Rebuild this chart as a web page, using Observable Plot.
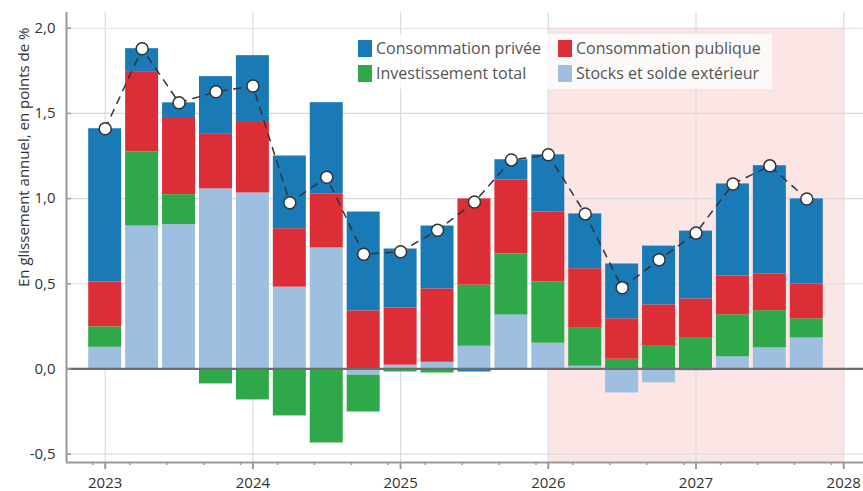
<!DOCTYPE html>
<html>
<head>
<meta charset="utf-8">
<script src="https://cdn.jsdelivr.net/npm/d3@7"></script>
<script src="https://cdn.jsdelivr.net/npm/@observablehq/plot@0.6"></script>
<style>
  html, body { margin: 0; padding: 0; background: #fff; overflow: hidden; }
  #wrap { position: relative; width: 863px; height: 491px; font-family: "Open Sans", sans-serif; }
  #legend { position: absolute; left: 349px; top: 34px; width: 423px; height: 55px;
            background: rgba(255,255,255,0.75); }
  .item { position: absolute; display: flex; align-items: center; font-size: 16px; color: #555; white-space: nowrap; }
  .sw { width: 14px; height: 17px; margin-right: 4px; }
</style>
</head>
<body>
<div id="wrap"></div>
<script>
// ---- data ----
const periods = [2023.00, 2023.25, 2023.50, 2023.75, 2024.00, 2024.25, 2024.50, 2024.75,
                 2025.00, 2025.25, 2025.50, 2025.75, 2026.00, 2026.25, 2026.50, 2026.75,
                 2027.00, 2027.25, 2027.50, 2027.75];
const seriesNames = ["Stocks et solde extérieur", "Investissement total", "Consommation publique", "Consommation privée"];
const stocks   = [0.127, 0.839, 0.847, 1.057, 1.033, 0.480, 0.710, -0.037, 0.022, 0.039,
                  0.133, 0.316, 0.151, 0.016, -0.141, -0.082, -0.012, 0.071, 0.124, 0.182];
const invest   = [0.120, 0.435, 0.176, -0.088, -0.182, -0.276, -0.435, -0.216, -0.018, -0.024,
                  0.359, 0.359, 0.359, 0.223, 0.057, 0.133, 0.180, 0.247, 0.218, 0.112];
const publique = [0.263, 0.467, 0.447, 0.320, 0.414, 0.343, 0.318, 0.341, 0.335, 0.431,
                  0.506, 0.435, 0.412, 0.349, 0.237, 0.243, 0.231, 0.227, 0.216, 0.204];
const privee   = [0.900, 0.139, 0.092, 0.339, 0.392, 0.427, 0.535, 0.580, 0.347, 0.369,
                  -0.018, 0.118, 0.335, 0.322, 0.322, 0.345, 0.398, 0.541, 0.635, 0.500];
const total    = [1.410, 1.880, 1.563, 1.627, 1.661, 0.976, 1.125, 0.673, 0.688, 0.814,
                  0.980, 1.227, 1.257, 0.910, 0.476, 0.641, 0.798, 1.086, 1.192, 0.998];
const forecast = [{start: 2026, end: 2028}];
const yTicks = [-0.5, 0, 0.5, 1, 1.5, 2];
const xYears = [2023, 2024, 2025, 2026, 2027, 2028];
const legendOrder = ["Consommation privée", "Consommation publique", "Investissement total", "Stocks et solde extérieur"];

// ---- styles ----
const colors = ["#9fbfe1", "#2fa84a", "#dc2e36", "#1a7ab5"];
const xDomain = [2022.738, 2028.134];
const yDomain = [-0.5494, 2.0924];
const halfWidth = 0.1117;

const seriesValues = [stocks, invest, publique, privee];
const table = periods.flatMap((t, i) => seriesNames.map((s, k) => ({t, series: s, value: seriesValues[k][i]})));
const totals = periods.map((t, i) => ({t, total: total[i]}));
const minorTicks = d3.range(2022, 2028).flatMap(y => [2, 5, 8, 11].map(m => y + m / 12))
  .filter(v => v > xDomain[0] && v < xDomain[1]);
const fmt = d => d.toFixed(1).replace(".", ",");

const chart = Plot.plot({
  width: 863, height: 491,
  marginLeft: 66, marginRight: 0, marginTop: 12, marginBottom: 29,
  style: {fontFamily: "Open Sans, sans-serif", fontSize: "15px", color: "#333", background: "transparent"},
  x: {type: "linear", domain: xDomain},
  y: {domain: yDomain},
  color: {domain: seriesNames, range: colors},
  marks: [
    Plot.rect(forecast, {x1: "start", x2: "end", y1: yDomain[0], y2: 2, fill: "#fce5e5"}),
    Plot.gridY(yTicks, {stroke: "#dcdcdc", strokeOpacity: 1, strokeWidth: 1.2}),
    Plot.gridX(xYears, {stroke: "#dcdcdc", strokeOpacity: 1, strokeWidth: 1.2}),
    Plot.rectY(table, Plot.stackY({x1: d => d.t - halfWidth, x2: d => d.t + halfWidth, y: "value", fill: "series"})),
    Plot.ruleY([0], {stroke: "#6e6e6e", strokeWidth: 2.2}),
    Plot.ruleX([xDomain[0]], {stroke: "#999", strokeWidth: 2}),
    Plot.ruleY([yDomain[0]], {stroke: "#999", strokeWidth: 2}),
    Plot.axisY(yTicks, {tickSize: 5, dx: 5, tickPadding: 11, tickFormat: fmt, stroke: "#999", strokeWidth: 1.5, fill: "#333", fontSize: 15, label: null}),
    Plot.axisX(xYears, {tickSize: 7, tickPadding: 8, tickFormat: d => String(d), stroke: "#999", strokeWidth: 2, fill: "#333", fontSize: 15, label: null}),
    Plot.axisX(minorTicks, {tickSize: 3, tickFormat: () => "", stroke: "#999", strokeWidth: 1.5, label: null}),
    Plot.line(totals, {x: "t", y: "total", stroke: "#333", strokeWidth: 1.5, strokeDasharray: "7,7"}),
    Plot.dot(totals, {x: "t", y: "total", r: 6, fill: "white", stroke: "#333", strokeWidth: 1.5}),
    Plot.text(["En glissement annuel, en points de %"], {frameAnchor: "top-left", rotate: -90, textAnchor: "end",
      dx: -48, dy: 15, fontSize: 15, fill: "#333"})
  ]
});

const wrap = document.getElementById("wrap");
wrap.appendChild(chart);
chart.style.position = "absolute";
chart.style.left = "0px";
chart.style.top = "0px";

const legend = document.createElement("div");
legend.id = "legend";
const pos = [[9, 3], [209, 3], [9, 28], [209, 28]];
legendOrder.forEach((name, i) => {
  const it = document.createElement("div");
  it.className = "item";
  it.style.left = pos[i][0] + "px";
  it.style.top = pos[i][1] + "px";
  const sw = document.createElement("div");
  sw.className = "sw";
  sw.style.background = colors[seriesNames.indexOf(name)];
  const tx = document.createElement("span");
  tx.textContent = name;
  it.appendChild(sw); it.appendChild(tx);
  legend.appendChild(it);
});
wrap.appendChild(legend);
</script>
</body>
</html>
